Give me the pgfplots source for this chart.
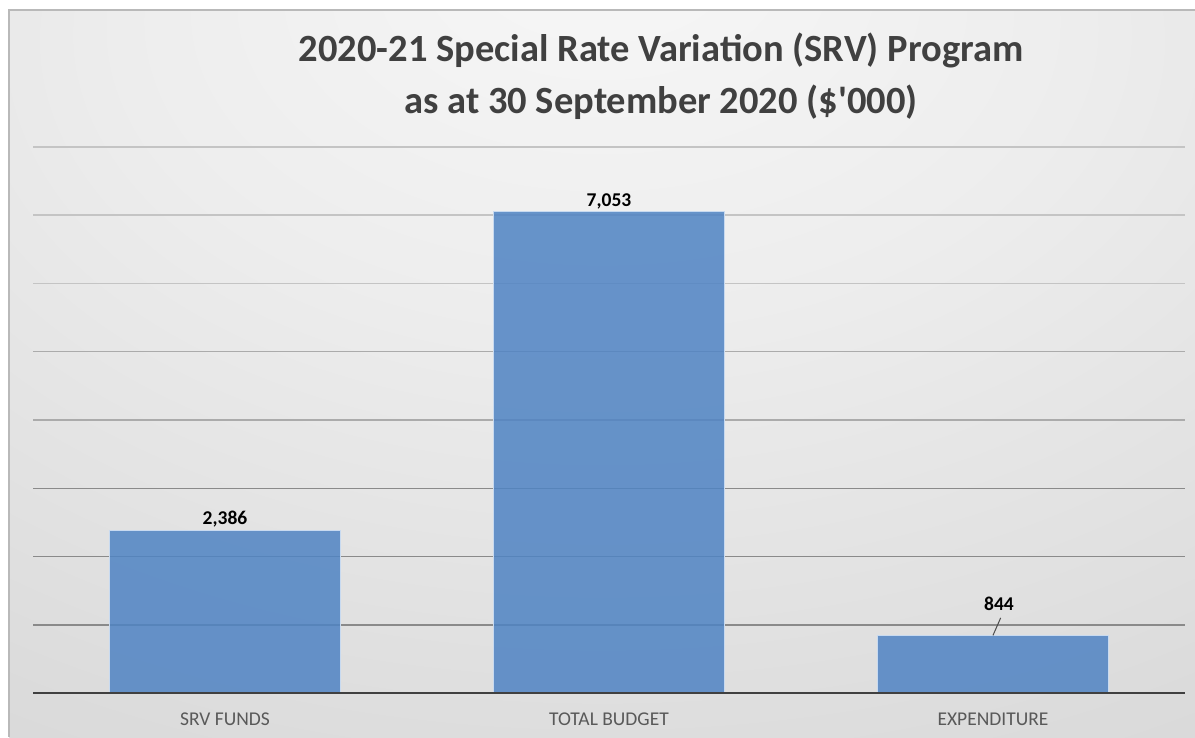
\documentclass[border=0pt]{standalone}
\usepackage{pgfplots}
\pgfplotsset{compat=1.18}
\usepackage{fontspec}
\setmainfont{Carlito}
\definecolor{barblue}{HTML}{4F83C3}
\definecolor{barborder}{HTML}{C8DAF0}
\definecolor{axisdark}{HTML}{404040}
\definecolor{ticklab}{HTML}{595959}
\definecolor{griddark}{HTML}{8A8A8A}
\definecolor{gridmid}{HTML}{ABABAB}
\definecolor{gridlight}{HTML}{C4C4C4}
\definecolor{titlecol}{HTML}{404040}
\pgfdeclareradialshading{bgshade}{\pgfpoint{0bp}{30bp}}{color(0bp)=(white!97!black); color(20bp)=(white!93!black); color(45bp)=(white!86!black); color(70bp)=(white!81!black); color(100bp)=(white!78!black)}
\tikzset{mybar/.style={fill=barblue, fill opacity=0.85, draw=barborder, line width=1.2pt}}
\begin{document}
\begin{tikzpicture}[x=1pt,y=1pt]
\useasboundingbox (0,0) rectangle (1195,737);
\fill[white] (0,0) rectangle (1195,737);
\shade[shading=bgshade] (9,0) rectangle (1195,727);
\draw[gray!55, line width=1.5pt] (9,0) -- (9,727) -- (1195,727);
\begin{axis}[at={(33pt,44pt)}, anchor=south west, scale only axis,
  width=1152pt, height=546pt,
  xmin=-0.5, xmax=2.5, ymin=0, ymax=8000,
  axis x line=bottom, axis y line=left,
  x axis line style={draw=none},
  y axis line style={draw=none},
  xtick={0,1,2}, xticklabels={SRV FUNDS, TOTAL BUDGET, EXPENDITURE},
  major tick length=0pt, minor tick length=0pt,
  xticklabel style={font=\fontsize{19.5}{23}\selectfont, text=ticklab, yshift=-16pt},
  ytick={1000,2000,3000}, yticklabels={},
  minor ytick={4000,5000},
  ymajorgrids, yminorgrids,
  major grid style={line width=1.5pt, color=griddark},
  minor grid style={line width=1.5pt, color=gridmid},
  extra y ticks={6000,7000,8000}, extra y tick labels={},
  extra y tick style={major grid style={line width=1.5pt, color=gridlight}},
  ybar, bar width=0.6, bar shift=0pt,
  nodes near coords={\pgfmathprintnumber[assume math mode=true,1000 sep={,}]{\pgfplotspointmeta}},
  every node near coord/.append style={font=\fontsize{19.5}{23}\selectfont\bfseries, text=black, text opacity=1, inner sep=2pt},
]
\addplot[mybar] coordinates {(0,2386) (1,7053)};
\addplot[mybar, every node near coord/.append style={yshift=22pt, xshift=6pt}] coordinates {(2,844)};
\draw[axisdark, line width=2pt] (rel axis cs:0,0) -- (rel axis cs:1,0);
\draw[gray!60!black, line width=1pt] (axis cs:2,844) -- (axis cs:2.02,1100);
\end{axis}
\node[anchor=base, font=\fontsize{38.5}{46}\selectfont\bfseries, text=titlecol] at (661,675) {2020-21 Special Rate Variation (SRV) Program};
\node[anchor=base, font=\fontsize{38.5}{46}\selectfont\bfseries, text=titlecol] at (661,623) {as at 30 September 2020 (\$\textquotesingle000)};
\end{tikzpicture}
\end{document}
